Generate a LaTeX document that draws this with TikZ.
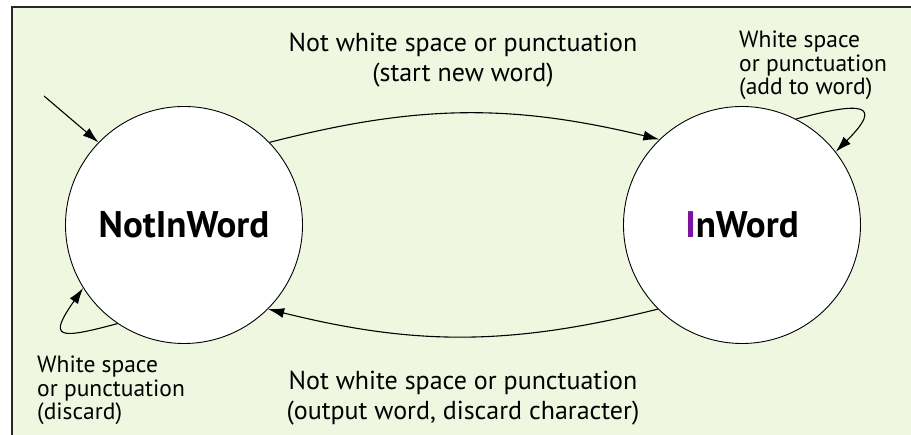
\documentclass[tikz,border=0pt]{standalone}
\usepackage{fontspec}
\setmainfont{PT Sans}
\usetikzlibrary{arrows.meta}
\definecolor{bggreen}{RGB}{239,247,225}
\definecolor{framegray}{RGB}{40,40,40}
\definecolor{ipurple}{RGB}{125,20,160}
\tikzset{
	wordstate/.style={circle, draw, fill=white, line width=0.9pt, minimum size=237pt, inner sep=0pt, font=\fontsize{37}{44}\selectfont\bfseries},
	trans/.style={line width=1.1pt, -{Latex[length=16pt,width=10pt]}},
	biglabel/.style={align=center, inner sep=0pt, anchor=base, font=\fontsize{26}{30.5}\selectfont},
	smalllabel/.style={align=left, inner sep=0pt, anchor=base west, font=\fontsize{23.5}{23.5}\selectfont}
}

\begin{document}
\begin{tikzpicture}[x=1pt, y=1pt]
			%%%%% START %%%%%
			\useasboundingbox (0, 0) rectangle (911, 435);
			
			\fill[bggreen] (12, 0) rectangle (911, 428);
			\draw[framegray, line width=1.2pt] (12, 0) -- (12, 428) -- (911, 428);
			
			\node[wordstate] (notinword) at (184, 210) {NotInWord};
			\node[wordstate] (inword) at (742, 210) {\textcolor{ipurple}{I}nWord};
			
			\coordinate (start) at (44, 339);
			\draw[trans] (start) -- (notinword.136);
			
			\draw[trans] (notinword.44) to[bend left=14] (inword.134);
			\draw[trans] (inword.-135) to[bend left=14] (notinword.-45);
			
			\draw[trans] (inword.63) to[out=15, in=45, looseness=3.4] (inword.38);
			\draw[trans] (notinword.236) to[out=195, in=235, looseness=3.2] (notinword.212);
			
			\node[biglabel] (toplabel) at (463, 353) {Not white space or punctuation\\(start new word)};
			\node[biglabel] (bottomlabel) at (463, 15) {Not white space or punctuation\\(output word, discard character)};
			
			\node[smalllabel] (addlabel) at (739, 340) {White space\\or punctuation\\(add to word)};
			\node[smalllabel] (discardlabel) at (37, 15) {White space\\or punctuation\\(discard)};
			
			%%%%% END %%%%%
\end{tikzpicture}
\end{document}
